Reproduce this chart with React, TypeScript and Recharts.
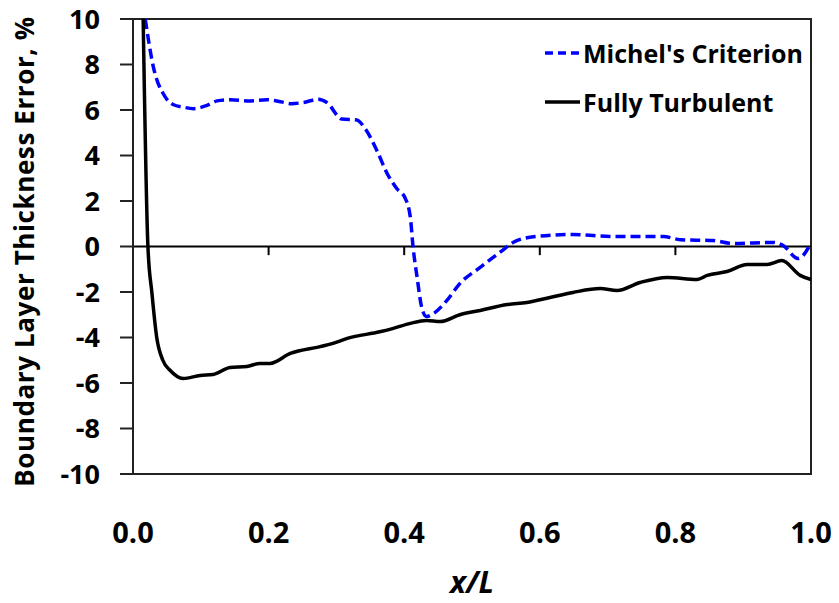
import { LineChart, Line, XAxis, YAxis, ReferenceLine, ReferenceArea, Legend } from "recharts";

const michelX = [0.018, 0.03, 0.047, 0.059, 0.075, 0.089, 0.109, 0.124, 0.143, 0.173, 0.197, 0.212, 0.234, 0.251, 0.273, 0.286, 0.308, 0.33, 0.342, 0.36, 0.375, 0.389, 0.401, 0.409, 0.413, 0.419, 0.426, 0.433, 0.443, 0.463, 0.482, 0.512, 0.541, 0.566, 0.595, 0.649, 0.708, 0.782, 0.807, 0.856, 0.885, 0.944, 0.959, 0.981, 1.0];
const michelY = [10, 7.9, 6.6, 6.24, 6.12, 6.06, 6.2, 6.4, 6.45, 6.4, 6.45, 6.4, 6.28, 6.33, 6.47, 6.33, 5.6, 5.56, 5.2, 4.2, 3.2, 2.55, 2.15, 1.3, 0, -1.35, -2.7, -3.08, -2.95, -2.37, -1.63, -0.92, -0.26, 0.26, 0.44, 0.53, 0.44, 0.44, 0.3, 0.26, 0.13, 0.18, 0.04, -0.53, 0.15];

const turbX = [0.015, 0.022, 0.028, 0.035, 0.044, 0.055, 0.074, 0.099, 0.118, 0.143, 0.168, 0.187, 0.202, 0.232, 0.276, 0.295, 0.316, 0.364, 0.384, 0.409, 0.433, 0.453, 0.482, 0.512, 0.552, 0.581, 0.615, 0.649, 0.689, 0.714, 0.748, 0.788, 0.832, 0.847, 0.876, 0.906, 0.935, 0.957, 0.984, 1.0];
const turbY = [10, 0, -2.07, -4.0, -5.0, -5.45, -5.8, -5.67, -5.63, -5.32, -5.27, -5.14, -5.14, -4.7, -4.4, -4.26, -4.04, -3.75, -3.6, -3.38, -3.25, -3.3, -3.0, -2.81, -2.55, -2.46, -2.24, -2.02, -1.85, -1.93, -1.58, -1.36, -1.45, -1.27, -1.1, -0.79, -0.79, -0.62, -1.27, -1.45];

const xTicks = [0, 0.2, 0.4, 0.6, 0.8, 1.0];
const yTicks = [-10, -8, -6, -4, -2, 0, 2, 4, 6, 8, 10];
const zeroTicks = [0.2, 0.4, 0.6, 0.8];

const michelData = michelX.map((x, i) => ({ x, y: michelY[i] }));
const turbData = turbX.map((x, i) => ({ x, y: turbY[i] }));

const FONT = "'Open Sans', sans-serif";

function LegendBox() {
  const row = (label: string, color: string, dash?: string) => (
    <div style={{ display: "flex", alignItems: "center", height: 49 }}>
      <svg width={38} height={10}>
        <line x1={0} y1={5} x2={35} y2={5} stroke={color} strokeWidth={3.5} strokeDasharray={dash} />
      </svg>
      <span style={{ fontFamily: FONT, fontWeight: 700, fontSize: 25, color: "#000", whiteSpace: "nowrap" }}>{label}</span>
    </div>
  );
  return (
    <div>
      {row("Michel's Criterion", "#0000ff", "8 5")}
      {row("Fully Turbulent", "#000")}
    </div>
  );
}

export default function App() {
  return (
    <div style={{ position: "absolute", left: 0, top: 0, background: "#fff" }}>
      <LineChart width={839} height={603} margin={{ top: 19, right: 28, left: 0, bottom: 0 }}>
        <XAxis
          type="number"
          dataKey="x"
          domain={[0, 1]}
          ticks={xTicks}
          tickFormatter={(v: number) => v.toFixed(1)}
          axisLine={false}
          tickLine={false}
          tickSize={0}
          tickMargin={48}
          height={129}
          tick={{ fontFamily: FONT, fontWeight: 700, fontSize: 29, fill: "#000" }}
          label={{
            content: ({ viewBox }: any) => (
              <text
                x={viewBox.x + viewBox.width / 2}
                y={viewBox.y + 119}
                textAnchor="middle"
                style={{ fontFamily: FONT, fontWeight: 700, fontStyle: "italic", fontSize: 30, fill: "#000" }}
              >
                x/L
              </text>
            ),
          }}
        />
        <YAxis
          type="number"
          domain={[-10, 10]}
          ticks={yTicks}
          width={133}
          allowDataOverflow
          axisLine={{ stroke: "#222", strokeWidth: 2 }}
          tickLine={{ stroke: "#222", strokeWidth: 2 }}
          tickSize={13}
          tickMargin={20}
          tick={{ fontFamily: FONT, fontWeight: 700, fontSize: 27, fill: "#000" }}
          label={{
            content: ({ viewBox }: any) => {
              const cx = viewBox.x + 24;
              const cy = viewBox.y + viewBox.height / 2 + 5;
              return (
                <text
                  x={cx}
                  y={cy}
                  transform={`rotate(-90, ${cx}, ${cy})`}
                  textAnchor="middle"
                  dominantBaseline="central"
                  style={{ fontFamily: FONT, fontWeight: 700, fontSize: 26, letterSpacing: 0.6, fill: "#000" }}
                >
                  Boundary Layer Thickness Error, %
                </text>
              );
            },
          }}
        />
        <ReferenceArea x1={0} x2={1} y1={-10} y2={10} fill="none" stroke="#222" strokeWidth={2} fillOpacity={0} />
        <ReferenceLine y={0} stroke="#000" strokeWidth={2} />
        {zeroTicks.map((t) => (
          <ReferenceLine
            key={t}
            segment={[{ x: t, y: 0 }, { x: t, y: -0.38 }]}
            stroke="#000"
            strokeWidth={2}
          />
        ))}
        <Line
          data={michelData}
          dataKey="y"
          name="Michel's Criterion"
          type="monotone"
          stroke="#0000ff"
          strokeWidth={3.5}
          strokeDasharray="10 5"
          dot={false}
          isAnimationActive={false}
        />
        <Line
          data={turbData}
          dataKey="y"
          name="Fully Turbulent"
          type="monotone"
          stroke="#000"
          strokeWidth={3.5}
          dot={false}
          isAnimationActive={false}
        />
        <Legend
          layout="horizontal"
          verticalAlign="middle"
          align="center"
          content={() => <LegendBox />}
          wrapperStyle={{ position: "absolute", left: 545, top: 28, width: 290, height: 98 }}
        />
      </LineChart>
    </div>
  );
}
